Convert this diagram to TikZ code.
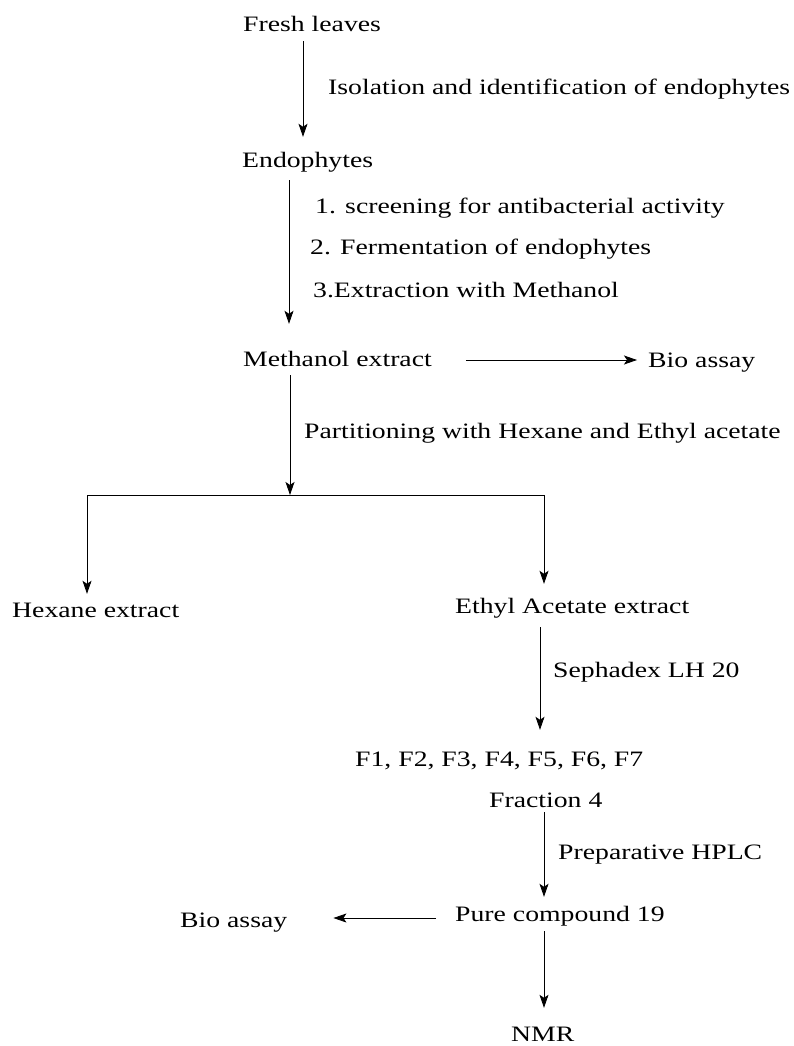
\documentclass[tikz,border=0pt]{standalone}
\usepackage{fontspec}
\setmainfont{Liberation Serif}[FakeStretch=1.26]
\usetikzlibrary{arrows.meta,calc}
\tikzset{
  txt/.style={anchor=base west, inner sep=0pt, text height=15pt, text depth=5pt, font=\fontsize{22}{26}\selectfont},
  arr/.style={line width=0.8pt, -{Stealth[length=13pt,width=9pt,inset=3pt]}},
  ln/.style={line width=0.8pt}
}
\begin{document}
\begin{tikzpicture}[x=1pt,y=-1pt]
\useasboundingbox (0,0) rectangle (793,1046);
% nodes
\node[txt] (fresh) at (243,32) {Fresh leaves};
\node[txt] (endo)  at (242,167) {Endophytes};
\node[txt] (meth)  at (243,366) {Methanol extract};
\node[txt] (bio1)  at (648,367) {Bio assay};
\node[txt] (hex)   at (12,617) {Hexane extract};
\node[txt] (ethyl) at (455,613) {Ethyl Acetate extract};
\node[txt] (fr)    at (355,766) {F1, F2, F3, F4, F5, F6, F7};
\node[txt] (f4)    at (489,807) {Fraction 4};
\node[txt] (pure)  at (455,921) {Pure compound 19};
\node[txt] (bio2)  at (180,927) {Bio assay};
\node[txt] (nmr)   at (511,1041) {NMR};
% labels
\node[txt] (l1) at (328,95) {Isolation and identification of endophytes};
\node[txt] (l2) at (315,213) {1. screening for antibacterial activity};
\node[txt] (l3) at (310,254) {2. Fermentation of endophytes};
\node[txt] (l4) at (313,297) {3.Extraction with Methanol};
\node[txt] (l5) at (304,438) {Partitioning with Hexane and Ethyl acetate};
\node[txt] (l6) at (553,677) {Sephadex LH 20};
\node[txt] (l7) at (558,859) {Preparative HPLC};
% axes and junction points
\coordinate (ax1) at (303,0);
\coordinate (ax2) at (289,0);
\coordinate (ax3) at (290,0);
\coordinate (ax4) at (540,0);
\coordinate (ax5) at (544,0);
\coordinate (jc) at (290,495);
\coordinate (jl) at (87,495);
\coordinate (jr) at (544,495);
% connectors
\draw[arr] ($(fresh.south -| ax1)+(0,4)$) -- ($(endo.north -| ax1)+(0,-15)$);
\draw[arr] ($(endo.south -| ax2)+(0,8)$) -- ($(meth.north -| ax2)+(0,-27)$);
\draw[arr] ($(meth.east)+(34,-1)$) -- ($(bio1.west)+(-11,-2)$);
\draw[arr] ($(meth.south -| ax3)+(0,4)$) -- (jc);
\draw[ln] (jl) -- (jr);
\draw[arr] (jl) -- ($(hex.north -| jl)+(0,-8)$);
\draw[arr] (jr) -- ($(ethyl.north -| jr)+(0,-14)$);
\draw[arr] ($(ethyl.south -| ax4)+(0,9)$) -- ($(fr.north -| ax4)+(0,-21)$);
\draw[arr] ($(f4.south -| ax5)+(0,0)$) -- ($(pure.north -| ax5)+(0,-9)$);
\draw[arr] ($(pure.west)+(-19,2)$) -- ($(bio2.east)+(46,-4)$);
\draw[arr] ($(pure.south -| ax5)+(0,5)$) -- ($(nmr.north -| ax5)+(0,-18)$);
\end{tikzpicture}
\end{document}
